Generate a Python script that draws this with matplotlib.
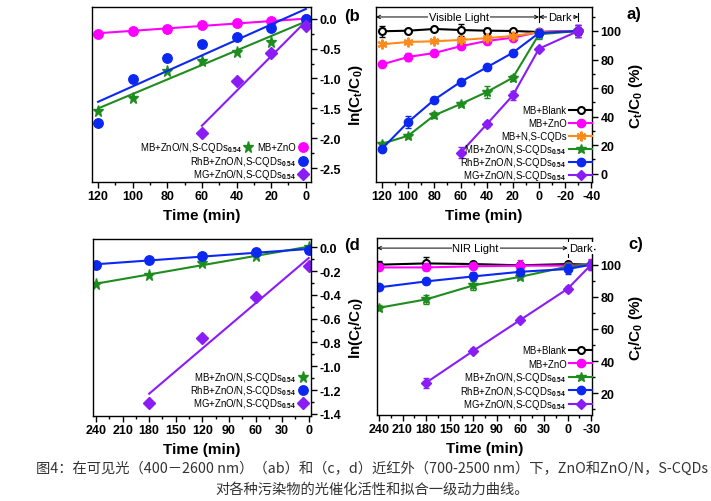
import numpy as np
import matplotlib
matplotlib.use('Agg')
import matplotlib.pyplot as plt
from matplotlib.legend import Legend
from matplotlib.ticker import MultipleLocator, FormatStrFormatter

plt.rcParams['font.family'] = ['Liberation Sans', 'DejaVu Sans']
plt.rcParams['font.weight'] = 'bold'
plt.rcParams['axes.unicode_minus'] = False
plt.rcParams['mathtext.fontset'] = 'custom'
plt.rcParams['mathtext.rm'] = 'Liberation Sans'
plt.rcParams['mathtext.it'] = 'Liberation Sans:italic'
plt.rcParams['mathtext.bf'] = 'Liberation Sans:bold'

# ---------------- data ----------------
labels = {
    'blank': 'MB+Blank',
    'zno': 'MB+ZnO',
    'cqd': 'MB+N,S-CQDs',
    'mb': 'MB+ZnO/N,S-CQDs$_{0.54}$',
    'rhb': 'RhB+ZnO/N,S-CQDs$_{0.54}$',
    'mg': 'MG+ZnO/N,S-CQDs$_{0.54}$',
}
colors = {'blank': '#000000', 'zno': '#FF00FF', 'cqd': '#FF8A1C',
          'mb': '#1E8C1E', 'rhb': '#0A28F0', 'mg': '#8A1CF5'}

# (a) visible light, C/C0 (%)
time_a = [-30, 0, 20, 40, 60, 80, 100, 120]
a_blank = [100, 99.3, 100, 100.2, 100.7, 101.4, 100.2, 99.8]
a_blank_err = [4, 1.5, 1.5, 2, 4, 1, 1, 4]
a_zno = [100, 99.3, 95.3, 93.0, 89.3, 84.6, 81.8, 76.6]
a_zno_err = [4, 1, 2, 2, 1.5, 2, 3, 1.5]
a_cqd = [100, 99.0, 96.5, 95.0, 93.7, 92.8, 92.3, 90.7]
a_cqd_err = [1.5, 1.5, 1.5, 1.5, 1.5, 1.5, 1.5, 1.5]
a_mb = [100, 97.7, 67.3, 57.2, 48.8, 40.9, 26.6, 21.0]
a_mb_err = [3, 3, 2, 4, 1.5, 2, 1.5, 1.5]
a_rhb = [100, 98.6, 84.8, 74.5, 64.3, 51.9, 36.2, 17.5]
a_rhb_err = [2, 3, 1.5, 2, 2, 1.5, 4, 1.5]
time_a_mg = [-30, 0, 20, 40, 60]
a_mg = [100, 87.6, 54.9, 34.6, 14.7]
a_mg_err = [4, 1.5, 3, 2, 4]

# (b) visible light, ln(Ct/C0)
time_b = [0, 20, 40, 60, 80, 100, 120]
b_zno = [-0.01, -0.04, -0.07, -0.11, -0.17, -0.20, -0.25]
b_mb = [-0.02, -0.39, -0.55, -0.71, -0.88, -1.32, -1.55]
b_rhb = [-0.01, -0.16, -0.30, -0.43, -0.65, -1.01, -1.74]
time_b_mg = [0, 20, 40, 60]
b_mg = [-0.13, -0.58, -1.05, -1.91]

# (c) NIR light, C/C0 (%)
time_c = [-30, 0, 60, 120, 180, 240]
c_blank = [100, 100.4, 99.6, 100.4, 100.8, 100]
c_blank_err = [1, 1, 1, 1, 4, 2]
c_zno = [100, 99.4, 99.4, 99.0, 98.3, 98.3]
c_zno_err = [3.5, 1, 3.5, 1, 1.5, 1]
c_mb = [100, 98.8, 92.5, 87.1, 78.4, 73.2]
c_mb_err = [2, 2, 1.5, 3, 3, 1.5]
c_rhb = [100, 97.3, 95.6, 92.7, 89.6, 85.9]
c_rhb_err = [2, 3, 1.5, 2.5, 1.5, 1.5]
time_c_mg = [-30, 0, 60, 120, 180]
c_mg = [100, 85.0, 65.7, 46.4, 26.6]
c_mg_err = [3, 2, 1.5, 1.5, 3]

# (d) NIR light, ln(Ct/C0)
time_d = [0, 60, 120, 180, 240]
d_mb = [0.0, -0.073, -0.135, -0.233, -0.309]
d_rhb = [-0.022, -0.039, -0.073, -0.107, -0.149]
time_d_mg = [0, 60, 120, 180]
d_mg = [-0.155, -0.416, -0.764, -1.306]

caption1 = '图4：在可见光（400－2600 nm）（ab）和（c，d）近红外（700-2500 nm）下，ZnO和ZnO/N，S-CQDs'
caption2 = '对各种污染物的光催化活性和拟合一级动力曲线。'

markers = {'blank': 'o', 'zno': 'o', 'cqd': (6, 2, 0), 'mb': '*', 'rhb': 'o', 'mg': 'D'}
msizes = {'blank': 5, 'zno': 6, 'cqd': 7, 'mb': 7.5, 'rhb': 6, 'mg': 5.5}

W, H = 711, 502
fig = plt.figure(figsize=(W / 100, H / 100), dpi=100)


def add_ax(l, r, t, b):
    return fig.add_axes([l / W, 1 - b / H, (r - l) / W, (b - t) / H])


def style(ax, xlim, ylim, xmaj, ymaj, yfmt=None):
    ax.set_xlim(*xlim)
    ax.set_ylim(*ylim)
    ax.xaxis.set_major_locator(MultipleLocator(xmaj))
    ax.xaxis.set_minor_locator(MultipleLocator(xmaj / 2))
    ax.yaxis.set_major_locator(MultipleLocator(ymaj))
    ax.yaxis.set_minor_locator(MultipleLocator(ymaj / 2))
    if yfmt:
        ax.yaxis.set_major_formatter(FormatStrFormatter(yfmt))
    ax.yaxis.tick_right()
    ax.yaxis.set_label_position('right')
    ax.tick_params(which='both', direction='out', width=1, labelsize=9, pad=2)
    ax.tick_params(which='major', length=4)
    ax.tick_params(which='minor', length=2.5)
    for s in ax.spines.values():
        s.set_linewidth(1)
    ax.set_xlabel('Time (min)', fontsize=11, fontweight='bold', labelpad=4)


def curve(ax, key, x, y, err):
    c = colors[key]
    ax.errorbar(x, y, yerr=err, fmt='none', ecolor=c, elinewidth=1, capsize=2, capthick=1)
    mfc = 'white' if key == 'blank' else c
    ln, = ax.plot(x, y, color=c, lw=1.5, marker=markers[key], ms=msizes[key],
                  mfc=mfc, mec=c, mew=1.5 if key in ('blank', 'cqd') else 1,
                  label=labels[key])
    return ln


def fitpts(ax, key, x, y):
    c = colors[key]
    p = np.polyfit(x, y, 1)
    xs = np.array([min(x), max(x)])
    ax.plot(xs, np.polyval(p, xs), color=c, lw=1.5)
    pt, = ax.plot(x, y, ls='none', marker=markers[key], ms=msizes[key] + 0.8,
                  color=c, mec=c, label=labels[key])
    return pt


def band(ax, xl, xr, xmid, light, lightx, darkx, ybar):
    trans = ax.get_xaxis_transform()
    yy = 0.943
    ap = dict(arrowstyle='<->', lw=0.7, color='k', shrinkA=0, shrinkB=0, mutation_scale=6)
    ax.annotate('', xy=(xl, yy), xytext=(xmid, yy), xycoords=trans, textcoords=trans, arrowprops=ap)
    ax.annotate('', xy=(xmid, yy), xytext=(xr, yy), xycoords=trans, textcoords=trans, arrowprops=ap)
    ax.plot([xmid, xmid], [1, ybar], transform=trans, color='k', lw=0.8)
    ax.plot([xr, xr], [yy - 0.025, yy + 0.025], transform=trans, color='k', lw=0.8)
    bb = dict(fc='white', ec='none', pad=0.6)
    ax.text(lightx, yy, light, transform=trans, ha='center', va='center', fontsize=8,
            fontweight='normal', bbox=bb)
    ax.text(darkx, yy, 'Dark', transform=trans, ha='center', va='center', fontsize=8,
            fontweight='normal', bbox=bb)


legprop = {'size': 6.9, 'weight': 'normal'}


def row_legends(ax, handles, ys, x, hl):
    # one legend per row so the rows sit evenly, handle on the right of the text
    for hdl, y in zip(handles, ys):
        lg = Legend(ax, [hdl], [hdl.get_label()], loc='center right', bbox_to_anchor=(x, y),
                    markerfirst=False, frameon=False, prop=legprop, handlelength=hl,
                    handletextpad=0.25, borderpad=0, borderaxespad=0)
        ax.add_artist(lg)


# ---------------- panel a ----------------
ax = add_ax(376, 592, 8, 183)
style(ax, (124.6, -40.5), (-5.8, 116.8), 20, 20)
h = [curve(ax, 'blank', time_a, a_blank, a_blank_err),
     curve(ax, 'zno', time_a, a_zno, a_zno_err),
     curve(ax, 'cqd', time_a, a_cqd, a_cqd_err),
     curve(ax, 'mb', time_a, a_mb, a_mb_err),
     curve(ax, 'rhb', time_a, a_rhb, a_rhb_err),
     curve(ax, 'mg', time_a_mg, a_mg, a_mg_err)]
ax.set_ylabel(r'$\mathbf{C_t/C_0}$ (%)', fontsize=11, fontweight='bold', rotation=90, labelpad=4)
band(ax, 124.6, -30, 0, 'Visible Light', 61, -16, 0.915)
row_legends(ax, h, [0.411, 0.337, 0.263, 0.189, 0.114, 0.04], 1.0, 2.4)

# ---------------- panel b ----------------
ax = add_ax(92, 311, 8, 183)
style(ax, (123.5, -3), (-2.73, 0.195), 20, 0.5, '%.1f')
hz = fitpts(ax, 'zno', time_b, b_zno)
hm = fitpts(ax, 'mb', time_b, b_mb)
hr = fitpts(ax, 'rhb', time_b, b_rhb)
hg = fitpts(ax, 'mg', time_b_mg, b_mg)
ax.set_ylabel(r'ln($\mathbf{C_t/C_0}$)', fontsize=11, fontweight='bold', rotation=90, labelpad=4)
row_legends(ax, [hz, hr, hg], [0.2, 0.12, 0.046], 0.986, 1.0)
row_legends(ax, [hm], [0.2], 0.731, 0.8)

# ---------------- panel c ----------------
ax = add_ax(377, 592, 239, 416)
style(ax, (242.5, -31), (6.5, 116.6), 30, 20)
h = [curve(ax, 'blank', time_c, c_blank, c_blank_err),
     curve(ax, 'zno', time_c, c_zno, c_zno_err),
     curve(ax, 'mb', time_c, c_mb, c_mb_err),
     curve(ax, 'rhb', time_c, c_rhb, c_rhb_err),
     curve(ax, 'mg', time_c_mg, c_mg, c_mg_err)]
ax.set_ylabel(r'$\mathbf{C_t/C_0}$ (%)', fontsize=11, fontweight='bold', rotation=90, labelpad=4)
band(ax, 242.5, -31, 0, 'NIR Light', 117, -17, 0.89)
row_legends(ax, h, [0.367, 0.290, 0.215, 0.138, 0.062], 1.0, 2.4)

# ---------------- panel d ----------------
ax = add_ax(93, 311, 240, 417)
style(ax, (243.4, -2.6), (-1.418, 0.07), 30, 0.2, '%.1f')
hm = fitpts(ax, 'mb', time_d, d_mb)
hr = fitpts(ax, 'rhb', time_d, d_rhb)
hg = fitpts(ax, 'mg', time_d_mg, d_mg)
ax.set_ylabel(r'ln($\mathbf{C_t/C_0}$)', fontsize=11, fontweight='bold', rotation=90, labelpad=4)
row_legends(ax, [hm, hr, hg], [0.220, 0.147, 0.073], 0.986, 1.0)

# ---------------- panel labels & caption ----------------
for txt, x, y in [('a)', 634, 15), ('(b', 352, 16), ('c)', 636, 245), ('(d', 352, 246)]:
    fig.text(x / W, 1 - y / H, txt, ha='center', va='center', fontsize=12, fontweight='bold')

cjk = ['Noto Sans CJK SC', 'DejaVu Sans']
fig.text(372 / W, 1 - 468 / H, caption1, ha='center', va='center', fontsize=10.3,
         family=cjk, fontweight='normal', color='#333333')
fig.text(372 / W, 1 - 490 / H, caption2, ha='center', va='center', fontsize=10.3,
         family=cjk, fontweight='normal', color='#333333')

fig.savefig('out.png', dpi=100)
